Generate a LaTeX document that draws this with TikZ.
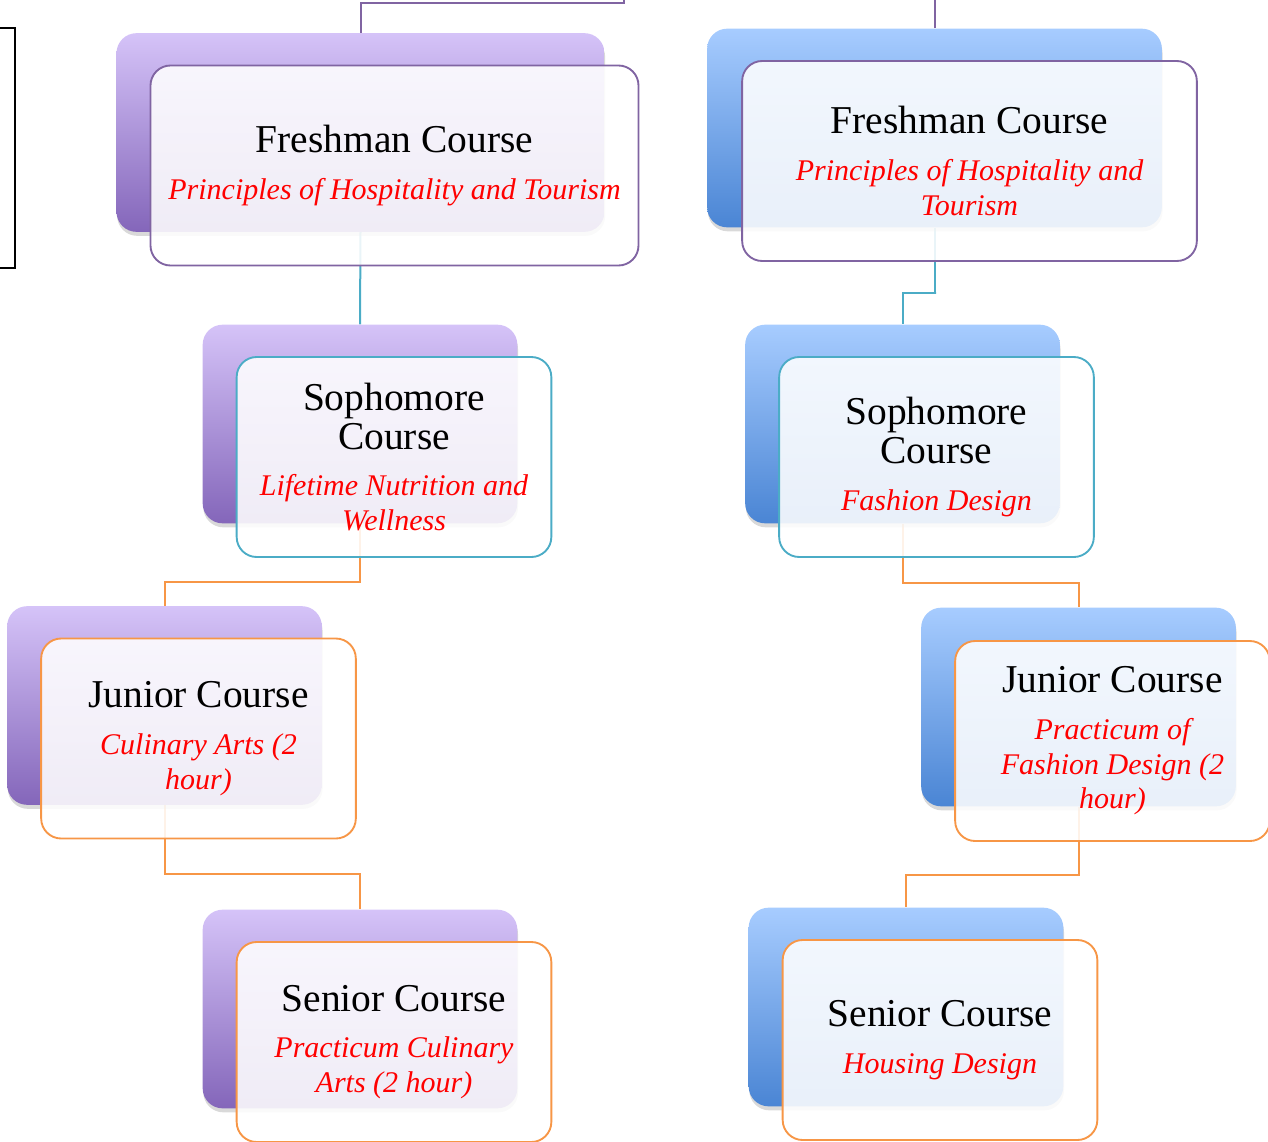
\documentclass[tikz,border=0pt]{standalone}
\usepackage{fontspec}
\setmainfont{Liberation Serif}
\usepackage{tikz}
\usetikzlibrary{positioning,calc,shadows}
\usepackage{xcolor}
\definecolor{lavtop}{HTML}{D5C3F8}
\definecolor{lavbot}{HTML}{8466BA}
\definecolor{skytop}{HTML}{A7CCFF}
\definecolor{skybot}{HTML}{4A85D4}
\definecolor{plumline}{HTML}{8064A2}
\definecolor{tealline}{HTML}{4BACC6}
\definecolor{orangeline}{HTML}{F79646}
\newcommand{\ttlfont}{\fontsize{29.6}{29}\selectfont}
\newcommand{\redsub}{\color{red}\itshape\fontsize{22.5}{26}\selectfont}
\pgfdeclarelayer{background}
\pgfsetlayers{background,main}

\begin{document}
\begin{tikzpicture}[x=0.75pt,y=-0.75pt,
  back/.style={rounded corners=15pt,minimum width=236pt,minimum height=149pt,
    drop shadow={shadow xshift=0.5pt,shadow yshift=-3pt,opacity=0.3}},
  lavback/.style={back,top color=lavtop,bottom color=lavbot},
  skyback/.style={back,top color=skytop,bottom color=skybot},
  front/.style={draw=#1,line width=1.4pt,rounded corners=15pt,fill=white,
    fill opacity=0.88,text opacity=1,minimum width=236pt,minimum height=150pt,
    inner sep=4pt,text width=226pt,align=flush center,font=\ttlfont},
  link/.style={draw=#1,line width=1.5pt}]
  \useasboundingbox (0,0) rectangle (1268,1142);
  \clip (0,0) rectangle (1268,1142);

  % cut-off box on the left
  \node[draw,line width=1.5pt,minimum width=172pt,minimum height=180pt] (side) at (-100,148) {};

  % left track
  \node[lavback,minimum width=366pt] (lb1) at (360.5,132.5) {};
  \node[front=plumline,minimum width=366pt,text width=356pt] (lf1) at ([shift={(34,33)}]lb1)
    {Freshman Course\par\vspace{9pt}{\redsub Principles of Hospitality and Tourism\par}};
  \node[lavback] (lb2) at (360,424) {};
  \node[front=tealline] (lf2) at ([shift={(34,33)}]lb2)
    {Sophomore\\Course\par\vspace{9pt}{\redsub Lifetime Nutrition and\\Wellness\par}};
  \node[lavback] (lb3) at (164.5,705.5) {};
  \node[front=orangeline] (lf3) at ([shift={(34,33)}]lb3)
    {Junior Course\par\vspace{9pt}{\redsub Culinary Arts (2\\hour)\par}};
  \node[lavback] (lb4) at (360,1009) {};
  \node[front=orangeline] (lf4) at ([shift={(34,33)}]lb4)
    {Senior Course\par\vspace{9pt}{\redsub Practicum Culinary\\Arts (2 hour)\par}};

  % right track
  \node[skyback,minimum width=341pt] (rb1) at (934.5,128) {};
  \node[front=plumline,minimum width=341pt,text width=331pt] (rf1) at ([shift={(35,33)}]rb1)
    {Freshman Course\par\vspace{9pt}{\redsub Principles of Hospitality and\\Tourism\par}};
  \node[skyback] (rb2) at (902.5,424) {};
  \node[front=tealline] (rf2) at ([shift={(34,33)}]rb2)
    {Sophomore\\Course\par\vspace{9pt}{\redsub Fashion Design\par}};
  \node[skyback] (rb3) at (1078.5,707) {};
  \node[front=orangeline] (rf3) at ([shift={(34,34)}]rb3)
    {Junior Course\par\vspace{9pt}{\redsub Practicum of\\Fashion Design (2\\hour)\par}};
  \node[skyback] (rb4) at (906,1007) {};
  \node[front=orangeline] (rf4) at ([shift={(34,33)}]rb4)
    {Senior Course\par\vspace{9pt}{\redsub Housing Design\par}};

  % connectors
  \coordinate (lturn) at (624,3);
  \coordinate (lend) at (624,0);
  \coordinate (rend) at (934.5,0);
  \begin{pgfonlayer}{background}
    \draw[link=plumline] (lb1.north) |- (lturn) -- (lend);
    \draw[link=plumline] (rb1.north) -- (rend);
    \draw[link=tealline] (lb1.south) -- (lb2.north);
    \draw[link=tealline] (rb1.south) |- ($(rf1.south)!0.5!(rb2.north)$) -| (rb2.north);
    \draw[link=orangeline] (lb2.south) |- ($(lf2.south)!0.5!(lb3.north)$) -| (lb3.north);
    \draw[link=orangeline] (lb3.south) |- ($(lf3.south)!0.5!(lb4.north)$) -| (lb4.north);
    \draw[link=orangeline] (rb2.south) |- ($(rf2.south)!0.5!(rb3.north)$) -| (rb3.north);
    \draw[link=orangeline] (rb3.south) |- ($(rf3.south)!0.5!(rb4.north)$) -| (rb4.north);
  \end{pgfonlayer}
\end{tikzpicture}
\end{document}
